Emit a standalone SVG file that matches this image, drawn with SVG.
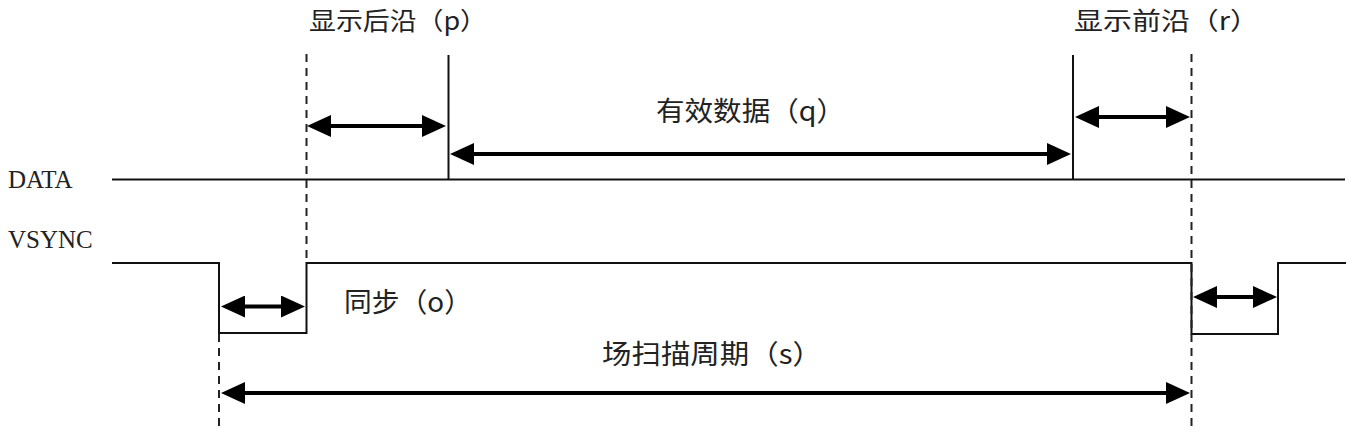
<svg xmlns="http://www.w3.org/2000/svg" width="1349" height="441" viewBox="0 0 1349 441">
<style>
.sig{fill:none;stroke:#111;stroke-width:2}
.dash{fill:none;stroke:#222;stroke-width:2;stroke-dasharray:8 6}
.arr{fill:none;stroke:#000;stroke-width:4;marker-start:url(#ah);marker-end:url(#ah)}
.cj{font-family:"Noto Sans CJK SC","Noto Sans",sans-serif;font-size:27px;fill:#222}
.top{font-size:24.5px}
.lat{font-family:"Liberation Serif",serif;font-size:25px;fill:#222}
</style>
<defs>
<marker id="ah" markerUnits="userSpaceOnUse" markerWidth="24" markerHeight="22" refX="19" refY="11" orient="auto-start-reverse">
<path d="M0,0 L24,11 L0,22 z" fill="#000"/>
</marker>
</defs>
<rect width="1349" height="441" fill="#fff"/>
<g id="signals">
<line id="data-line" class="sig" x1="112" y1="179.5" x2="1345" y2="179.5"/>
<path id="vsync-line" class="sig" d="M112,263 H219 V333 H306.5 V263 H1191.5 V334 H1278 V263 H1346"/>
<line class="sig" x1="448.5" y1="55" x2="448.5" y2="179.5"/>
<line class="sig" x1="1073" y1="55" x2="1073" y2="179.5"/>
<line class="dash" x1="306.5" y1="54" x2="306.5" y2="263"/>
<line class="dash" x1="219" y1="334" x2="219" y2="432"/>
<line class="dash" x1="1191.5" y1="54" x2="1191.5" y2="432"/>
</g>
<g id="connectors">
<line class="arr" x1="312" y1="126" x2="441" y2="126"/>
<line class="arr" x1="455" y1="154" x2="1066" y2="154"/>
<line class="arr" x1="1080" y1="117" x2="1185" y2="117"/>
<line class="arr" x1="226" y1="306.5" x2="300" y2="306.5"/>
<line class="arr" x1="1198" y1="297" x2="1272" y2="297"/>
<line class="arr" x1="226" y1="393" x2="1185" y2="393"/>
</g>
<g id="label-data"><text class="lat" x="8" y="188">DATA</text></g>
<g id="label-vsync"><text class="lat" x="8" y="248">VSYNC</text></g>
<g id="label-p"><text class="cj top" x="309" y="29.5" textLength="178" lengthAdjust="spacingAndGlyphs">显示后沿（p）</text></g>
<g id="label-r"><text class="cj top" x="1074" y="29.5" textLength="185" lengthAdjust="spacingAndGlyphs">显示前沿（r）</text></g>
<g id="label-q"><text class="cj" x="656" y="121" textLength="189" lengthAdjust="spacingAndGlyphs">有效数据（q）</text></g>
<g id="label-o"><text class="cj" x="344" y="312" textLength="128" lengthAdjust="spacingAndGlyphs">同步（o）</text></g>
<g id="label-s"><text class="cj" x="602" y="364" textLength="220" lengthAdjust="spacingAndGlyphs">场扫描周期（s）</text></g>
</svg>
